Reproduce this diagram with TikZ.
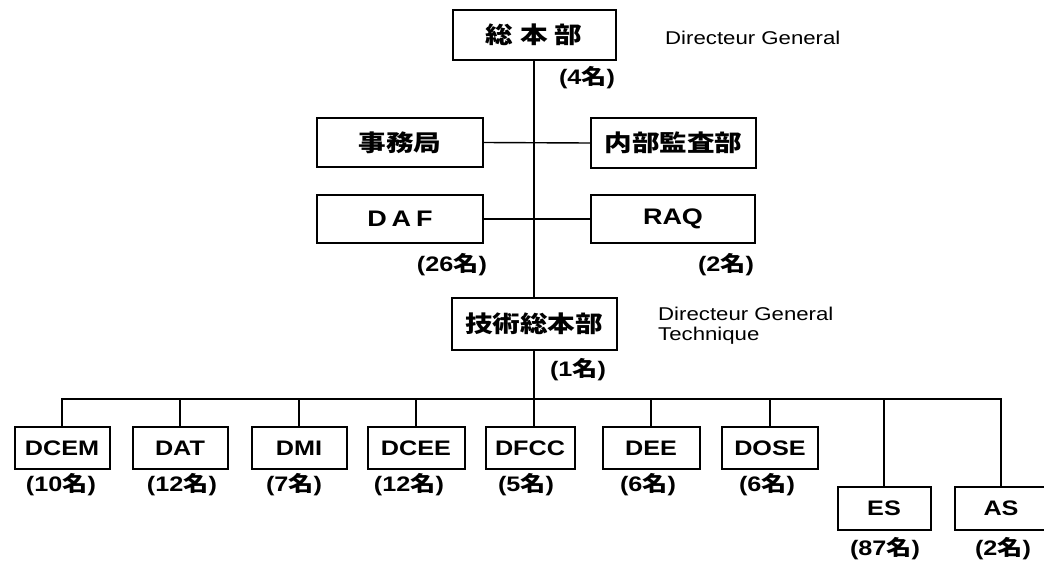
\documentclass[tikz,border=0pt]{standalone}
\usepackage{fontspec}
\setmainfont{Liberation Sans}[FakeStretch=1.2]
\newfontfamily\cjk{Noto Sans CJK JP}[FakeStretch=1.2]
\newcommand\mei{{\cjk\bfseries 名}}
\begin{document}
\begin{tikzpicture}[x=1pt,y=-1pt,
  unit/.style={draw, line width=2pt, inner sep=0pt, minimum height=42pt, minimum width=95pt,
    font=\bfseries\fontsize{21}{21}\selectfont},
  bigunit/.style={draw, line width=2pt, inner sep=0pt, minimum width=165pt, minimum height=50pt,
    font=\cjk\bfseries\fontsize{23}{23}\selectfont},
  latunit/.style={bigunit, font=\bfseries\fontsize{22.5}{22.5}\selectfont},
  lab/.style={inner sep=0pt, font=\bfseries\fontsize{21}{21}\selectfont},
  note/.style={inner sep=0pt, align=left, font=\fontsize{18.5}{19.5}\selectfont},
  link/.style={line width=2.4pt},
  thinlink/.style={line width=1.4pt},
  midlink/.style={line width=1.8pt}]
\useasboundingbox (0,0) rectangle (1044,560);

% top level
\node[bigunit, minimum width=163pt] (top) at (534,35) {総\hspace{7pt}本\hspace{7pt}部};
\node[lab] (ltop) at (587,78) {(4\mei)};
\node[note, anchor=base west] (ntop) at (665,44) {Directeur General};

\node[bigunit, minimum width=166pt, minimum height=49pt] (jimu) at (400,142.5) {事務局};
\node[bigunit] (naibu) at (673.5,143) {内部監査部};

\node[latunit, minimum width=166pt, minimum height=48pt] (daf) at (400,219) {D\hspace{5pt}A\hspace{5pt}F};
\node[latunit, minimum width=164pt, minimum height=48pt] (raq) at (673,219) {RAQ};
\node[lab] (ldaf) at (452,265) {(26\mei)};
\node[lab] (lraq) at (726,265) {(2\mei)};

\node[bigunit, minimum height=52pt] (gij) at (534,324) {技術総本部};
\node[lab] (lgij) at (578,370) {(1\mei)};
\node[note, anchor=north west] (ngij) at (658,307) {Directeur General\\Technique};

% bottom row
\node[unit] (dcem) at (62,448) {DCEM};
\node[unit] (dat)  at (180,448) {DAT};
\node[unit] (dmi)  at (299,448) {DMI};
\node[unit, minimum width=97pt] (dcee) at (416,448) {DCEE};
\node[unit, minimum width=89pt] (dfcc) at (530,448) {DFCC};
\node[unit, minimum width=97pt] (dee)  at (651,448) {DEE};
\node[unit, minimum width=96pt] (dose) at (770,448) {DOSE};
\node[unit, minimum width=93pt, minimum height=43pt] (es) at (884,508) {ES};
\node[unit, minimum width=93pt, minimum height=43pt] (as) at (1001,508) {AS};

\node[lab] (ldcem) at (61,485) {(10\mei)};
\node[lab] (ldat)  at (182,485) {(12\mei)};
\node[lab] (ldmi)  at (294,485) {(7\mei)};
\node[lab] (ldcee) at (409,485) {(12\mei)};
\node[lab] (ldfcc) at (526,485) {(5\mei)};
\node[lab] (ldee)  at (648,485) {(6\mei)};
\node[lab] (ldose) at (767,485) {(6\mei)};
\node[lab] (les)   at (885,549) {(87\mei)};
\node[lab] (las)   at (1003,549) {(2\mei)};

% connectors
\draw[link] (top.south) -- (gij.north);
\draw[thinlink] (jimu.east) -- (naibu.west);
\draw[midlink] (daf.east) -- (raq.west);
\coordinate (bus) at (534,399);
\draw[link] (gij.south) -- (gij.south |- dfcc.north);
\draw[midlink] (dcem.north) |- (bus) -| (as.north);
\foreach \n in {dat,dmi,dcee,dee,dose,es}
  \draw[link] (\n.north) -- (\n.north |- bus);
\end{tikzpicture}
\end{document}
